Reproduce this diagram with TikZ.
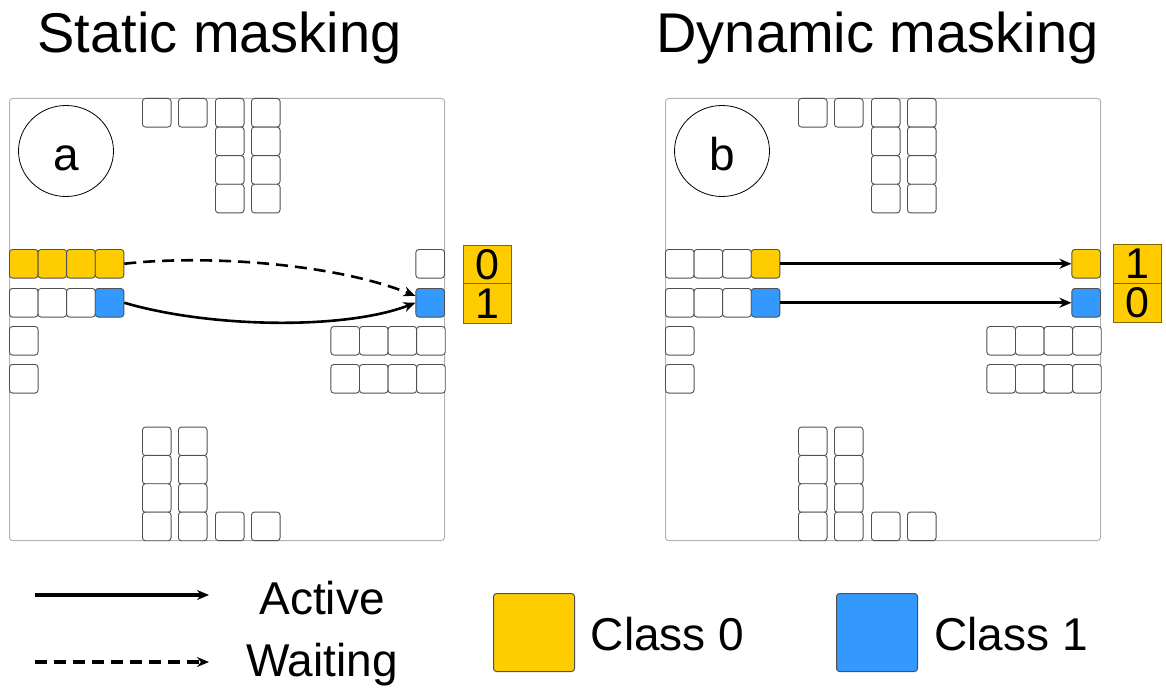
\documentclass[tikz,border=0pt]{standalone}
\usepackage{fontspec}
\setmainfont{Liberation Sans}
\usetikzlibrary{arrows.meta,shapes.geometric}
\definecolor{clsA}{HTML}{FFCC00}
\definecolor{clsB}{HTML}{3399FF}
\definecolor{cellline}{HTML}{505050}
\definecolor{frameline}{HTML}{B3B3B3}
\definecolor{tagline}{HTML}{7F6A00}
\tikzset{
  cell/.style={draw=cellline, line width=0.9pt, rounded corners=3pt,
    minimum width=28.6pt, minimum height=28.6pt, inner sep=0pt,
    anchor=north west, fill=white},
  ycell/.style={cell, fill=clsA},
  bcell/.style={cell, fill=clsB},
  panelframe/.style={draw=frameline, line width=1pt, rounded corners=3pt,
    anchor=north west, minimum width=435pt, minimum height=442pt, inner sep=0pt},
  badge/.style={draw=black, line width=0.8pt, ellipse, minimum width=95pt,
    minimum height=91pt, inner sep=0pt, text height=38pt, text depth=0pt,
    font=\fontsize{46}{50}\selectfont},
  digitbox/.style={draw=tagline, fill=clsA, line width=1pt, anchor=north west,
    minimum width=48pt, inner sep=0pt, font=\fontsize{43}{45}\selectfont},
  titletext/.style={anchor=base, inner sep=0pt, font=\fontsize{56}{60}\selectfont},
  legendtext/.style={anchor=base, inner sep=0pt, font=\fontsize{46}{50}\selectfont},
  swatch/.style={draw=cellline, line width=1pt, rounded corners=3pt, anchor=north west,
    minimum width=81pt, minimum height=78pt, inner sep=0pt},
  activearrow/.style={line width=2.6pt, -{Stealth[length=12pt,width=10pt]}},
  waitarrow/.style={activearrow, dash pattern=on 12pt off 7pt},
  keyline/.style={line width=3.2pt},
}
% cells that are the same in both panels; #1 is the name prefix
\newcommand{\sharedcells}[1]{%
  \foreach \x [count=\i] in {142,178,215,251}
    \node[cell] (#1top\i) at (\x,98) {};
  \foreach \x [count=\i] in {215,251}
    \foreach \r in {1,2,3}
      \node[cell] (#1col\i-\r) at (\x,{98+28.6*\r}) {};
  \foreach \x [count=\i] in {142,178}
    \foreach \r in {0,1,2,3}
      \node[cell] (#1bot\i-\r) at (\x,{426.6+28.35*\r}) {};
  \foreach \x [count=\i] in {215,251}
    \node[cell] (#1foot\i) at (\x,511.6) {};
  \node[cell] (#1left1) at (9,326) {};
  \node[cell] (#1left2) at (9,364) {};
  \foreach \k [count=\i] in {0,1,2,3} {
    \node[cell] (#1rowA\i) at ({330.4+28.6*\k},326) {};
    \node[cell] (#1rowB\i) at ({330.4+28.6*\k},364) {};
  }
}
\begin{document}
\begin{tikzpicture}[x=1pt, y=-1pt]
\useasboundingbox (0,0) rectangle (1166,690);

% titles
\node[titletext] (titleA) at (219.5,53) {Static masking};
\node[titletext] (titleB) at (877.5,53) {Dynamic masking};

% ---- static masking panel ----
\node[panelframe] (aFrame) at (9,98) {};
\node[badge] (aBadge) at (66,151) {a};
\sharedcells{a}
\foreach \k [count=\i] in {0,1,2,3}
  \node[ycell] (aY\i) at ({9+28.6*\k},249) {};
\foreach \k [count=\i] in {0,1,2}
  \node[cell] (aB\i) at ({9+28.6*\k},288) {};
\node[bcell] (aB4) at (94.8,288) {};
\node[cell] (aR1) at (415.4,249) {};
\node[bcell] (aR2) at (415.4,288) {};
\node[digitbox, minimum height=38pt] (aTag0) at (463,245) {0};
\node[digitbox, minimum height=40pt] (aTag1) at (463,283) {1};
\draw[waitarrow] (aY4.east) .. controls (200,255) and (330,262) .. (aR2.155);
\draw[activearrow] (aB4.east) .. controls (210,328) and (345,330) .. (aR2.west);

% ---- dynamic masking panel ----
\begin{scope}[xshift=656pt]
\node[panelframe] (bFrame) at (9,98) {};
\node[badge] (bBadge) at (66,151) {b};
\sharedcells{b}
\foreach \k [count=\i] in {0,1,2}
  \node[cell] (bY\i) at ({9+28.6*\k},249) {};
\node[ycell] (bY4) at (94.8,249) {};
\foreach \k [count=\i] in {0,1,2}
  \node[cell] (bB\i) at ({9+28.6*\k},288) {};
\node[bcell] (bB4) at (94.8,288) {};
\node[ycell] (bR1) at (415.4,249) {};
\node[bcell] (bR2) at (415.4,288) {};
\node[digitbox, minimum height=39pt] (bTag0) at (457,244) {1};
\node[digitbox, minimum height=39pt] (bTag1) at (457,283) {0};
\draw[activearrow] (bY4.east) -- (bR1.west);
\draw[activearrow] (bB4.east) -- (bR2.west);
\end{scope}

% ---- legend ----
\coordinate (actFrom) at (35,595);
\coordinate (actTo) at (209,595);
\draw[activearrow, keyline] (actFrom) -- (actTo);
\node[legendtext] (actLbl) at (322,614) {Active};
\coordinate (waitFrom) at (35,662);
\coordinate (waitTo) at (209,662);
\draw[waitarrow, keyline] (waitFrom) -- (waitTo);
\node[legendtext] (waitLbl) at (322,676) {Waiting};
\node[swatch, fill=clsA] (sw0) at (493,593) {};
\node[legendtext] (cls0) at (667.5,650) {Class 0};
\node[swatch, fill=clsB] (sw1) at (836,593) {};
\node[legendtext] (cls1) at (1011,650) {Class 1};
\end{tikzpicture}
\end{document}
